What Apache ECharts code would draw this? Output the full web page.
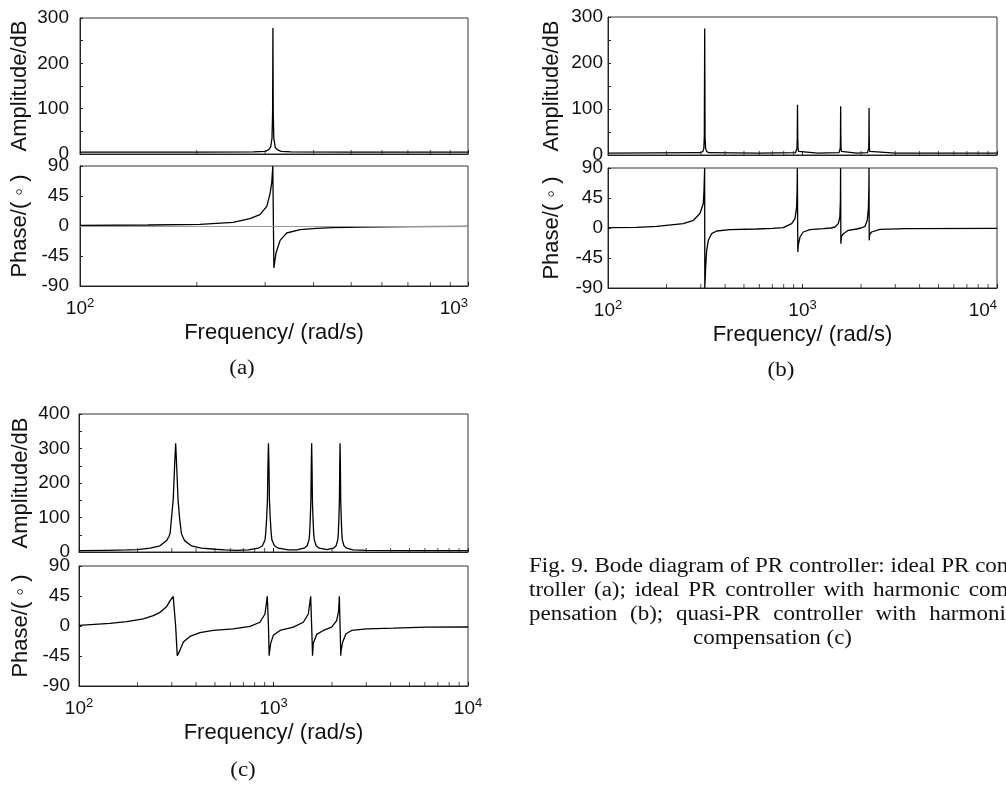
<!DOCTYPE html>
<html>
<head>
<meta charset="utf-8">
<script src="https://cdn.jsdelivr.net/npm/echarts@6/dist/echarts.min.js"></script>
<style>
  html, body { margin: 0; padding: 0; background: #fff; }
  #main { width: 1006px; height: 785px; }
</style>
</head>
<body>
<div id="main"></div>
<script>
// ---- data: [frequency rad/s, value] ----
// (a) ideal PR controller
const ampA = [[100, 4], [200, 4], [280, 4.5], [300, 6], [306, 9], [310, 15], [312.5, 35], [313.6, 90],
  [314.2, 278], [314.8, 90], [315.9, 35], [318.5, 15], [323, 9], [330, 6], [350, 4.5], [500, 4], [1000, 4]];
const phaseA = [[100, 0.8], [150, 1.5], [204, 2.5], [248, 5.5], [274, 11], [291, 17], [303, 29.5], [309, 49],
  [312, 65], [314, 90], [316, -63], [320, -40.5], [328, -21.5], [341, -10.5], [369, -5.5], [407, -3.6],
  [449, -2.5], [527, -1.5], [700, -0.8], [1000, -0.5]];

// (b) ideal PR with harmonic compensation
const ampB = [[100, 4], [300, 5], [308, 8], [311, 15], [312.8, 40], [314.2, 275], [315.5, 40], [317.5, 15],
  [321, 8], [330, 5], [600, 4], [920, 5], [932, 8], [937, 15], [940, 40], [942.5, 109], [945, 40], [948, 15],
  [953, 8], [965, 5], [1200, 4], [1540, 5], [1558, 8], [1564, 15], [1568, 40], [1571, 106], [1574, 40],
  [1578, 15], [1585, 8], [1600, 5], [1900, 4], [2160, 5], [2182, 8], [2190, 15], [2195, 40], [2199, 102],
  [2203, 40], [2208, 15], [2217, 8], [2240, 5], [3000, 4], [10000, 4]];
const phaseB = [[100, 0.5], [140, 1], [178, 2.5], [244, 6.6], [275, 11.6], [297, 21.7], [309, 36.8],
  [311.5, 55], [314, 90], [314.6, -90], [317.8, -59], [321.6, -33.6], [328, -18.5], [341, -8.5], [362, -4.5],
  [424, -2.4], [581, -1.5], [700, -0.5], [796, 0.6], [880, 6.6], [915, 14], [933, 31.7], [938, 55], [941, 90],
  [946, -36], [952, -25], [971, -13.5], [1009, -6], [1093, -2.4], [1279, -1], [1400, 0], [1469, 1.5],
  [1528, 6.6], [1556, 16.6], [1566, 40], [1570, 90], [1575, -23.5], [1585, -13], [1622, -8.5], [1720, -3.5],
  [1899, -1.5], [2000, 0], [2096, 2.5], [2153, 11.6], [2182, 30], [2194, 60], [2198, 90], [2203, -18.5],
  [2215, -10], [2267, -6], [2500, -2], [3434, -1], [10000, -0.5]];

// (c) quasi-PR with harmonic compensation
const ampC = [[100, 4], [140, 5], [176, 6], [200, 7], [232, 11], [261, 18], [282, 33], [290, 45], [294, 54],
  [299, 98], [305, 151], [310, 247], [314, 315], [318, 247], [323, 151], [329, 98], [336, 54], [341, 45],
  [349, 33], [378, 18], [426, 11], [500, 8], [561, 6], [650, 5], [744, 6], [837, 11], [877, 18], [904, 35],
  [912, 54], [922, 98], [931, 151], [936, 247], [942, 315], [948, 247], [953, 151], [962, 98], [973, 54],
  [982, 35], [1011, 18], [1060, 11], [1194, 6], [1316, 6], [1438, 11], [1490, 18], [1523, 35], [1534, 54],
  [1546, 98], [1557, 151], [1564, 247], [1571, 315], [1578, 247], [1585, 151], [1596, 98], [1609, 54],
  [1621, 35], [1657, 18], [1717, 11], [1880, 7], [2036, 11], [2100, 18], [2141, 35], [2154, 54], [2169, 98],
  [2182, 151], [2191, 247], [2199, 315], [2208, 247], [2216, 151], [2230, 98], [2245, 54], [2259, 35],
  [2303, 18], [2375, 11], [2565, 6], [3000, 5], [5000, 4], [10000, 4]];
const phaseC = [[100, 1], [144, 4], [176, 6.7], [214, 10.7], [241, 15.6], [261, 20.5], [282, 29], [297, 40],
  [305, 44.5], [314, 0], [320, -44.5], [325, -41], [330.6, -36], [344, -24], [372, -15.6], [419, -10],
  [490, -6.7], [621, -4.2], [757, -0.7], [852, 5.6], [904, 18], [929, 44.5], [942, 0], [950, -44.5],
  [955, -38], [967, -26], [998, -14], [1080, -6.7], [1265, -1.8], [1424, 5.6], [1510, 18], [1553, 44.5],
  [1571, 0], [1588, -44.5], [1592, -38], [1602, -26], [1667, -12.6], [1803, -6.7], [1991, -1.8], [2113, 8],
  [2163, 23], [2180, 44.5], [2199, 0], [2218, -44.5], [2223, -38], [2268, -24], [2360, -11.6], [2523, -6.7],
  [3015, -4.2], [4130, -3.2], [6120, -1.8], [10000, -1.5]];

// minor ticks on the log frequency axes
const minorTwoDec = [200, 300, 400, 500, 600, 700, 800, 900];
const minorFourDec = [200, 300, 400, 500, 600, 700, 800, 900, 2000, 3000, 4000, 5000, 6000, 7000, 8000, 9000];

const panelLetters = ['(a)', '(b)', '(c)'];
const captionLines = [
  'Fig. 9. Bode diagram of PR controller: ideal PR con-',
  'troller (a); ideal PR controller with harmonic com-',
  'pensation (b); quasi-PR controller with harmonic',
  'compensation (c)'
];

const SANS = '"Liberation Sans", Arial, sans-serif';
const SERIF = '"Liberation Serif", "Times New Roman", serif';
const INK = '#111';
const STRETCH = 1.15; // the printed figure is a little wider than tall

// grid boxes: amp a, phase a, amp b, phase b, amp c, phase c
const grids = [
  { left: 80, top: 18, width: 388, height: 136 },
  { left: 80, top: 166, width: 388, height: 120 },
  { left: 608, top: 17, width: 389, height: 138 },
  { left: 608, top: 168, width: 389, height: 120 },
  { left: 79, top: 414, width: 389, height: 138 },
  { left: 79, top: 566, width: 389, height: 120 }
];
const nameGaps = [49, 49, 45, 45, 47, 47];
const labelMargins = [11, 11, 5, 5, 9, 9];
const maxLabelAlign = ['center', 'right', 'center', 'right', 'center', 'center'];

function freqAxis(i, max, isPhase) {
  return {
    type: 'log', logBase: 10, gridIndex: i, min: 100, max: max,
    axisLine: { onZero: false, lineStyle: { color: '#222', width: 1 } },
    axisTick: { show: true, inside: true, length: 4, lineStyle: { color: '#222' } },
    axisLabel: {
      show: isPhase, margin: 11, color: INK, fontFamily: SANS,
      showMinLabel: true, showMaxLabel: true, alignMaxLabel: maxLabelAlign[i],
      formatter: v => '{base|10}{sup|' + Math.round(Math.log10(v)) + '}',
      rich: {
        base: { fontSize: 19, lineHeight: 24, fontFamily: SANS, color: INK },
        sup: { fontSize: 13, lineHeight: 11, fontFamily: SANS, color: INK, verticalAlign: 'top' }
      }
    },
    splitLine: { show: false },
    name: isPhase ? 'Frequency/ (rad/s)' : '',
    nameLocation: 'middle', nameGap: 36,
    nameTextStyle: { color: INK, fontFamily: SANS, fontSize: 22 }
  };
}

function ampAxis(i, max) {
  return {
    type: 'value', gridIndex: i, min: 0, max: max, interval: 50,
    axisLine: { show: true, onZero: false, lineStyle: { color: '#222' } },
    axisTick: { show: true, inside: true, length: 3, lineStyle: { color: '#222' } },
    axisLabel: { color: INK, fontFamily: SANS, fontSize: 19, margin: labelMargins[i],
      formatter: v => (v % 100 === 0 ? String(v) : '') },
    splitLine: { show: false },
    name: 'Amplitude/dB', nameLocation: 'middle', nameGap: nameGaps[i],
    nameTextStyle: { color: INK, fontFamily: SANS, fontSize: 22 }
  };
}

function phaseAxis(i) {
  return {
    type: 'value', gridIndex: i, min: -90, max: 90, interval: 45,
    axisLine: { show: true, onZero: false, lineStyle: { color: '#222' } },
    axisTick: { show: true, inside: true, length: 3, lineStyle: { color: '#222' } },
    axisLabel: { color: INK, fontFamily: SANS, fontSize: 19, margin: labelMargins[i] },
    splitLine: { show: false },
    name: 'Phase/( \u25E6 )', nameLocation: 'middle', nameGap: nameGaps[i],
    nameTextStyle: { color: INK, fontFamily: SANS, fontSize: 22 }
  };
}

function curve(i, data) {
  return {
    type: 'line', xAxisIndex: i, yAxisIndex: i, data: data,
    symbol: 'none', smooth: false, z: 3,
    lineStyle: { color: '#000', width: 1.3 }
  };
}

function minorTicks(i, xs, yMin) {
  return {
    type: 'scatter', xAxisIndex: i, yAxisIndex: i, silent: true, clip: false, z: 4,
    data: xs.map(x => [x, yMin]),
    symbol: 'rect', symbolSize: [1, 4], symbolOffset: [0, -2],
    itemStyle: { color: '#222' }
  };
}

// justified caption, word by word (slightly wide, like the printed figure)
const capFont = '20px ' + SERIF;
const measure = document.createElement('canvas').getContext('2d');
measure.font = capFont;
const capLeft = 529, capWidth = 487, capTop = 567, capStep = 24;
const captionGraphics = [];
captionLines.forEach((line, k) => {
  const y = capTop + k * capStep;
  if (k === captionLines.length - 1) {
    captionGraphics.push({ type: 'text', x: capLeft + capWidth / 2, y: y, scaleX: STRETCH,
      style: { text: line, font: capFont, fill: INK, textAlign: 'center', textVerticalAlign: 'middle' } });
    return;
  }
  const words = line.split(' ');
  const widths = words.map(w => measure.measureText(w).width * STRETCH);
  const gap = (capWidth - widths.reduce((a, b) => a + b, 0)) / (words.length - 1);
  let x = capLeft;
  words.forEach((w, j) => {
    captionGraphics.push({ type: 'text', x: x, y: y, scaleX: STRETCH,
      style: { text: w, font: capFont, fill: INK, textAlign: 'left', textVerticalAlign: 'middle' } });
    x += widths[j] + gap;
  });
});

const letterPos = [[242, 369], [781, 371], [243, 771]];
const letterGraphics = panelLetters.map((t, k) => ({
  type: 'text', x: letterPos[k][0], y: letterPos[k][1], scaleX: STRETCH,
  style: { text: t, font: '20px ' + SERIF, fill: INK, textAlign: 'center', textVerticalAlign: 'middle' }
}));

const chart = echarts.init(document.getElementById('main'));
chart.setOption({
  animation: false,
  backgroundColor: '#fff',
  grid: grids.map(g => Object.assign({
    show: true, borderColor: '#333', borderWidth: 1, backgroundColor: 'transparent',
    containLabel: false, outerBoundsMode: 'none'
  }, g)),
  xAxis: [
    freqAxis(0, 1000, false), freqAxis(1, 1000, true),
    freqAxis(2, 10000, false), freqAxis(3, 10000, true),
    freqAxis(4, 10000, false), freqAxis(5, 10000, true)
  ],
  yAxis: [
    ampAxis(0, 300), phaseAxis(1),
    ampAxis(2, 300), phaseAxis(3),
    ampAxis(4, 400), phaseAxis(5)
  ],
  series: [
    {
      type: 'line', xAxisIndex: 1, yAxisIndex: 1, data: [], z: 1,
      markLine: { silent: true, symbol: 'none', label: { show: false },
        lineStyle: { color: '#999', width: 1, type: 'solid' }, data: [{ yAxis: 0 }] }
    },
    curve(0, ampA), curve(1, phaseA),
    curve(2, ampB), curve(3, phaseB),
    curve(4, ampC), curve(5, phaseC),
    minorTicks(0, minorTwoDec, 0), minorTicks(1, minorTwoDec, -90),
    minorTicks(2, minorFourDec, 0), minorTicks(3, minorFourDec, -90),
    minorTicks(4, minorFourDec, 0), minorTicks(5, minorFourDec, -90)
  ],
  graphic: letterGraphics.concat(captionGraphics)
});
</script>
</body>
</html>
